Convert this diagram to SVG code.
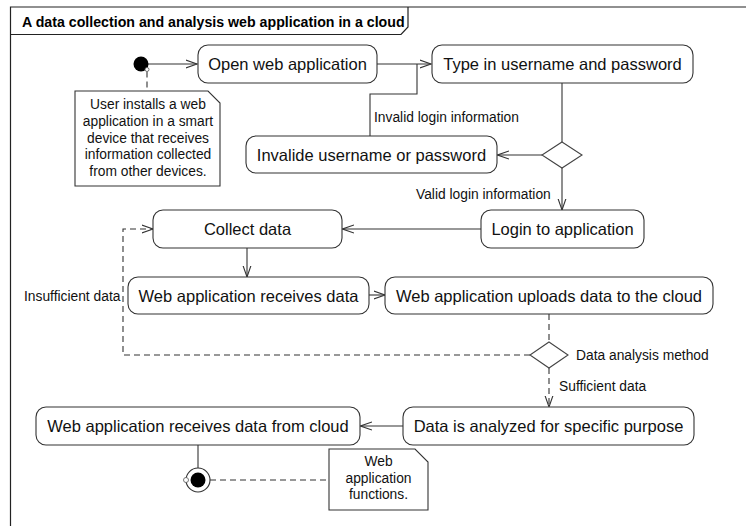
<svg xmlns="http://www.w3.org/2000/svg" width="746" height="526" viewBox="0 0 746 526">
  <defs>
    <style>
      .frame { fill: none; stroke: #222; stroke-width: 1.2; }
      .act { fill: #fff; stroke: #333; stroke-width: 1.1; }
      .note { fill: #fff; stroke: #333; stroke-width: 1.1; }
      .dec { fill: #fff; stroke: #444; stroke-width: 1.1; }
      .line { fill: none; stroke: #333; stroke-width: 1.1; }
      .dash { fill: none; stroke: #333; stroke-width: 1.1; stroke-dasharray: 6 4; }
      .t { font-family: "Liberation Sans", Arial, sans-serif; font-size: 16.5px; fill: #111; text-anchor: middle; }
      .lbl { font-family: "Liberation Sans", Arial, sans-serif; font-size: 13.8px; fill: #111; }
      .nt { font-family: "Liberation Sans", Arial, sans-serif; font-size: 13.8px; fill: #111; text-anchor: middle; }
      .title { font-family: "Liberation Sans", Arial, sans-serif; font-size: 14.2px; font-weight: bold; fill: #000; }
    </style>
    <marker id="arrow" viewBox="0 0 12 10" refX="11.5" refY="5" markerWidth="12" markerHeight="10" markerUnits="userSpaceOnUse" orient="auto">
      <path d="M0,1 L11.5,5 L0,9" fill="none" stroke="#333" stroke-width="1.1" stroke-dasharray="none"/>
    </marker>
  </defs>

  <rect width="746" height="526" fill="#fff"/>

  <!-- frame with title tab -->
  <g id="frame">
    <path class="frame" d="M746,7 H10.5 V526"/>
    <path class="frame" d="M10.5,34.5 H401 L408,27 V7"/>
    <text class="title" x="22" y="27">A data collection and analysis web application in a cloud</text>
  </g>

  <!-- connectors -->
  <g id="connectors">
    <path class="line" d="M148,64 H197" marker-end="url(#arrow)"/>
    <path class="line" d="M377,64 H431" marker-end="url(#arrow)"/>
    <path class="line" d="M370,136 V94 H417 V64"/>
    <path class="line" d="M562,83 V142"/>
    <path class="line" d="M542,155 H497.5" marker-end="url(#arrow)"/>
    <path class="line" d="M562,168 V210" marker-end="url(#arrow)"/>
    <path class="line" d="M481,229 H342.5" marker-end="url(#arrow)"/>
    <path class="line" d="M247,248 V277" marker-end="url(#arrow)"/>
    <path class="line" d="M369,295 H385" marker-end="url(#arrow)"/>
    <path class="dash" d="M549,314 V342"/>
    <path class="dash" d="M530,355 H123 V229 H153" marker-end="url(#arrow)"/>
    <path class="dash" d="M549,368 V407" marker-end="url(#arrow)"/>
    <path class="line" d="M403,426 H360.5" marker-end="url(#arrow)"/>
    <path class="line" d="M198,445 V468"/>
    <path class="dash" d="M210,480 H329"/>
    <path class="dash" d="M147,71.5 V91"/>
    <text class="lbl" x="374" y="122">Invalid login information</text>
    <text class="lbl" x="416" y="199">Valid login information</text>
    <text class="lbl" x="24" y="300.5">Insufficient data</text>
    <text class="lbl" x="576" y="360">Data analysis method</text>
    <text class="lbl" x="559" y="391">Sufficient data</text>
  </g>

  <g id="start">
    <circle cx="141" cy="64" r="7.5" fill="#000"/>
    <circle cx="147" cy="69.5" r="2" fill="#fff" stroke="#555" stroke-width="0.8"/>
  </g>

  <g id="note-install">
    <path class="note" d="M75,91 H208 L220,103 V186 H75 Z"/>
    <text class="nt" x="148" y="109">User installs a web</text>
    <text class="nt" x="148" y="126">application in a smart</text>
    <text class="nt" x="148" y="142.5">device that receives</text>
    <text class="nt" x="148" y="159">information collected</text>
    <text class="nt" x="148" y="175.5">from other devices.</text>
  </g>

  <g id="open-app">
    <rect class="act" x="198" y="45" width="179" height="38" rx="10"/>
    <text class="t" x="287.5" y="70">Open web application</text>
  </g>

  <g id="type-credentials">
    <rect class="act" x="432" y="45" width="261" height="38" rx="10"/>
    <text class="t" x="562.5" y="70">Type in username and password</text>
  </g>

  <g id="invalid-credentials">
    <rect class="act" x="246" y="136" width="251" height="37" rx="10"/>
    <text class="t" x="371.5" y="160.5">Invalide username or password</text>
  </g>

  <g id="login-check">
    <path class="dec" d="M562,142 L582,155 L562,168 L542,155 Z"/>
  </g>

  <g id="login">
    <rect class="act" x="481" y="210" width="163" height="38" rx="10"/>
    <text class="t" x="562.5" y="235">Login to application</text>
  </g>

  <g id="collect-data">
    <rect class="act" x="153" y="210" width="189" height="38" rx="10"/>
    <text class="t" x="247.5" y="235">Collect data</text>
  </g>

  <g id="receive-data">
    <rect class="act" x="128" y="277" width="241" height="37" rx="10"/>
    <text class="t" x="248.5" y="301.5">Web application receives data</text>
  </g>

  <g id="upload-data">
    <rect class="act" x="385" y="277" width="328" height="37" rx="10"/>
    <text class="t" x="549" y="301.5">Web application uploads data to the cloud</text>
  </g>

  <g id="analysis-check">
    <path class="dec" d="M549,342 L568,355 L549,368 L530,355 Z"/>
  </g>

  <g id="analyze-data">
    <rect class="act" x="403" y="407" width="291" height="38" rx="10"/>
    <text class="t" x="548.5" y="432">Data is analyzed for specific purpose</text>
  </g>

  <g id="receive-from-cloud">
    <rect class="act" x="36" y="407" width="324" height="38" rx="10"/>
    <text class="t" x="198" y="432">Web application receives data from cloud</text>
  </g>

  <g id="end">
    <circle cx="198" cy="480" r="12" fill="#fff" stroke="#333" stroke-width="1.1"/>
    <circle cx="198" cy="480" r="7.5" fill="#000"/>
    <circle cx="186" cy="480" r="2.5" fill="#fff" stroke="#555" stroke-width="0.8"/>
  </g>

  <g id="note-functions">
    <path class="note" d="M329,449 H415 L428,462 V510 H329 Z"/>
    <text class="nt" x="378.5" y="466">Web</text>
    <text class="nt" x="378.5" y="482.5">application</text>
    <text class="nt" x="378.5" y="499">functions.</text>
  </g>
</svg>
